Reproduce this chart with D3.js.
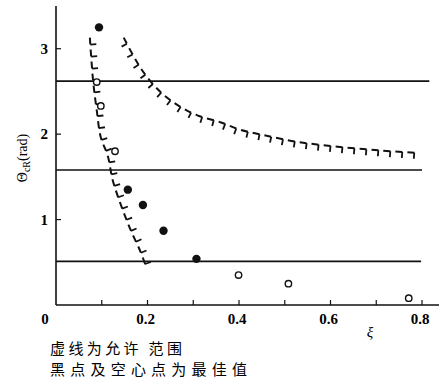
<!DOCTYPE html>
<html>
<head>
<meta charset="utf-8">
<script src="https://cdn.jsdelivr.net/npm/d3@7"></script>
<style>
  body { margin: 0; background: #fff; }
  svg { display: block; }
</style>
</head>
<body>
<script>
var w = 439, h = 382;

// optimum values (black = solid dots, open = hollow dots)
var solidX = [0.094, 0.157, 0.190, 0.235, 0.307];
var solidY = [3.25, 1.35, 1.17, 0.87, 0.54];
var openX = [0.089, 0.098, 0.129, 0.399, 0.508, 0.771];
var openY = [2.61, 2.33, 1.80, 0.35, 0.25, 0.08];

// allowable-range boundaries (dashed, hatched)
var leftX = [0.074, 0.081, 0.089, 0.098, 0.113, 0.124, 0.142, 0.163, 0.185, 0.198];
var leftY = [3.13, 2.63, 2.28, 1.96, 1.75, 1.46, 1.17, 0.88, 0.62, 0.43];
var rightX = [0.148, 0.174, 0.196, 0.229, 0.266, 0.309, 0.359, 0.403, 0.453, 0.527, 0.621, 0.708, 0.789];
var rightY = [3.13, 2.87, 2.69, 2.49, 2.34, 2.22, 2.14, 2.05, 1.99, 1.91, 1.85, 1.81, 1.78];

// horizontal reference levels
var levels = [2.62, 1.58, 0.51];
var levelEnd = [0.816, 0.800, 0.798];

var xTicks = [0.1, 0.2, 0.3, 0.4, 0.5, 0.6, 0.7, 0.8];
var xLabels = [0.2, 0.4, 0.6, 0.8];
var yTicks = [1, 2, 3];

var x = d3.scaleLinear().domain([0, 0.8]).range([56, 422]);
var y = d3.scaleLinear().domain([0, 3.5]).range([305, 6]);

var svg = d3.select("body").append("svg").attr("width", w).attr("height", h);
var serif = "'Liberation Serif', 'DejaVu Serif', serif";

// axes
svg.append("line").attr("x1", x(0)).attr("x2", w).attr("y1", y(0)).attr("y2", y(0))
  .attr("stroke", "#111").attr("stroke-width", 1.6);
svg.append("line").attr("x1", x(0)).attr("x2", x(0)).attr("y1", y(0)).attr("y2", y(3.5))
  .attr("stroke", "#111").attr("stroke-width", 1.6);

svg.selectAll(".xt").data(xTicks).enter().append("line")
  .attr("x1", d => x(d)).attr("x2", d => x(d))
  .attr("y1", y(0)).attr("y2", y(0) - 5)
  .attr("stroke", "#111").attr("stroke-width", 1.2);
svg.selectAll(".yt").data(yTicks).enter().append("line")
  .attr("x1", x(0)).attr("x2", x(0) + 5)
  .attr("y1", d => y(d)).attr("y2", d => y(d))
  .attr("stroke", "#111").attr("stroke-width", 1.2);

svg.append("text").attr("x", 45).attr("y", 324).attr("text-anchor", "middle")
  .attr("font-family", serif).attr("font-size", 15).attr("font-weight", "bold").text("0");
svg.selectAll(".xl").data(xLabels).enter().append("text")
  .attr("x", d => x(d) - 2).attr("y", 324).attr("text-anchor", "middle")
  .attr("font-family", serif).attr("font-size", 15).attr("font-weight", "bold")
  .text(d => d3.format(".1f")(d));
svg.selectAll(".yl").data(yTicks).enter().append("text")
  .attr("x", 48).attr("y", d => y(d) + 5).attr("text-anchor", "end")
  .attr("font-family", serif).attr("font-size", 15).attr("font-weight", "bold")
  .text(d => d);

// axis titles
svg.append("text").attr("x", 370).attr("y", 337).attr("text-anchor", "middle")
  .attr("font-family", serif).attr("font-size", 15).attr("font-style", "italic").text("ξ");
var yt = svg.append("text").attr("transform", "translate(27,158) rotate(-90)")
  .attr("text-anchor", "middle").attr("font-family", serif).attr("font-size", 14);
yt.append("tspan").text("Θ");
yt.append("tspan").attr("font-size", 10).attr("dy", 3).text("cR");
yt.append("tspan").attr("dy", -3).text("(rad)");

// reference levels
svg.selectAll(".lv").data(levels).enter().append("line")
  .attr("x1", x(0)).attr("x2", (d, i) => x(levelEnd[i]))
  .attr("y1", d => y(d)).attr("y2", d => y(d))
  .attr("stroke", "#111").attr("stroke-width", 1.7);

// hatched dashed boundaries
var line = d3.line().x(d => x(d[0])).y(d => y(d[1])).curve(d3.curveCatmullRom);
function hatched(xs, ys, side) {
  var pts = xs.map((v, i) => [v, ys[i]]);
  var path = svg.append("path").attr("d", line(pts))
    .attr("fill", "none").attr("stroke", "#111").attr("stroke-width", 2)
    .attr("stroke-dasharray", "7 5");
  var node = path.node(), len = node.getTotalLength();
  for (var s = 7; s <= len; s += 12) {
    var p = node.getPointAtLength(s), q = node.getPointAtLength(Math.max(0, s - 1));
    var tx = p.x - q.x, ty = p.y - q.y, n = Math.hypot(tx, ty) || 1;
    tx /= n; ty /= n;
    var nx = side > 0 ? ty : -ty, ny = side > 0 ? -tx : tx;
    svg.append("line").attr("x1", p.x).attr("y1", p.y)
      .attr("x2", p.x + nx * 6).attr("y2", p.y + ny * 6)
      .attr("stroke", "#111").attr("stroke-width", 1.8);
  }
}
hatched(leftX, leftY, 1);
hatched(rightX, rightY, -1);

// points
svg.selectAll(".sd").data(solidX).enter().append("circle")
  .attr("cx", d => x(d)).attr("cy", (d, i) => y(solidY[i])).attr("r", 4.2)
  .attr("fill", "#111");
svg.selectAll(".od").data(openX).enter().append("circle")
  .attr("cx", d => x(d)).attr("cy", (d, i) => y(openY[i])).attr("r", 3.2)
  .attr("fill", "#fff").attr("stroke", "#111").attr("stroke-width", 1.4);

// caption
var cjk = "'Noto Sans CJK SC', sans-serif";
svg.append("text").attr("x", 50).attr("y", 354).attr("font-family", cjk)
  .attr("font-size", 15).attr("textLength", 132).text("虚线为允许 范围");
svg.append("text").attr("x", 50).attr("y", 375).attr("font-family", cjk)
  .attr("font-size", 15).attr("textLength", 197).text("黑点及空心点为最佳值");
</script>
</body>
</html>
